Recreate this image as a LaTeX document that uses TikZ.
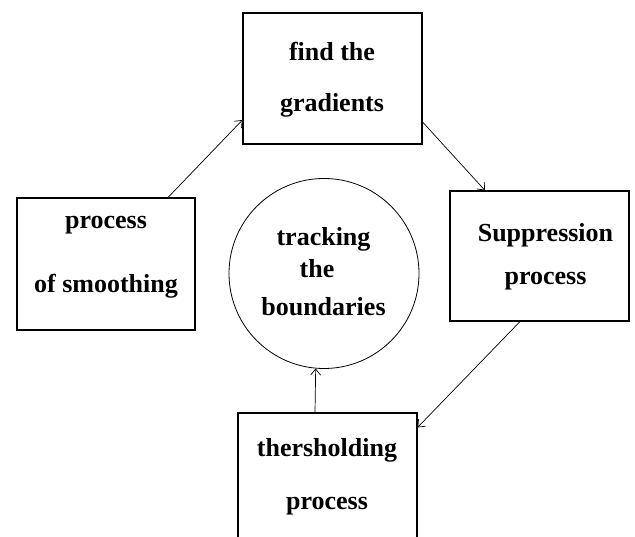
\documentclass[tikz,border=0pt]{standalone}
\usepackage{fontspec}
\setmainfont{Liberation Serif}
\usetikzlibrary{arrows.meta}
\tikzset{
  stepbox/.style={draw, line width=1.1pt, inner sep=0pt},
  label text/.style={align=center, font=\fontsize{26}{30}\selectfont\bfseries, inner sep=0pt},
  flow/.style={line width=0.7pt, -{Straight Barb[length=6pt,width=10pt]}}
}
\begin{document}
\begin{tikzpicture}[x=1pt,y=-1pt]
\useasboundingbox (0,0) rectangle (635,537);
\begin{scope}
\clip (0,0) rectangle (635,537);

% boxes
\node [stepbox, minimum width=179pt, minimum height=131pt] (grad) at (332.5,78.5) {};
\node [stepbox, minimum width=178pt, minimum height=132pt] (smooth) at (106,264) {};
\node [stepbox, minimum width=179pt, minimum height=130pt] (supp) at (539.5,256) {};
\node [stepbox, minimum width=179pt, minimum height=150pt] (thr) at (327.5,488) {};
% circle
\node [draw, circle, line width=0.8pt, minimum size=190pt, inner sep=0pt] (track) at (324,273.5) {};

% texts
\node [label text] (gradT) at (332,80) {find the\\[21pt]gradients};
\node [label text] (smoothT) at (106,257) {process\\[34pt]of smoothing};
\node [label text] (suppT) at (545.5,257) {Suppression\\[13pt]process};
\node [label text] (thrT) at (327,477) {thersholding\\[23pt]process};
\node [label text] (trackT) at (323.5,272) {tracking\\[2pt]the\kern13pt\\[8pt]boundaries};

% arrows
\draw [flow] ([xshift=62pt]smooth.north) -- ([yshift=-41.5pt]grad.west);
\draw [flow] ([yshift=-43.5pt]grad.east) -- ([xshift=-54.5pt]supp.north);
\draw [flow] ([xshift=-19.5pt]supp.south) -- ([yshift=-15pt]thr.north east);
\draw [flow] ([xshift=-12.5pt]thr.north) -- (track.265);
\end{scope}
\end{tikzpicture}
\end{document}
